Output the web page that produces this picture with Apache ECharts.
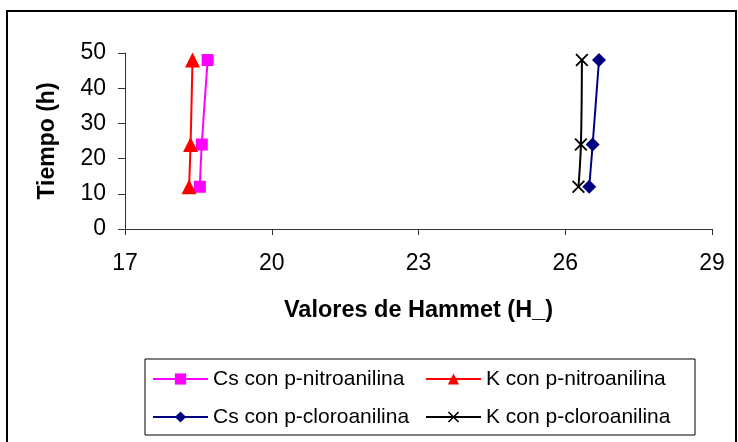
<!DOCTYPE html>
<html>
<head>
<meta charset="utf-8">
<script src="https://cdn.jsdelivr.net/npm/echarts@6/dist/echarts.min.js"></script>
<style>
  html, body { margin: 0; padding: 0; background: #fff; }
  #chart { width: 738px; height: 442px; }
</style>
</head>
<body>
<div id="chart"></div>
<script>
// Time points (h)
const tiempo = [12, 24, 48];
// Hammett acidity values for each catalyst / indicator pair
const csNitro = [18.53, 18.57, 18.69];
const kNitro = [18.31, 18.34, 18.38];
const csCloro = [26.49, 26.56, 26.69];
const kCloro = [26.27, 26.32, 26.34];
const seriesNames = [
  'Cs con p-nitroanilina',
  'K con p-nitroanilina',
  'Cs con p-cloroanilina',
  'K con p-cloroanilina'
];
const xTicks = { min: 17, max: 29, step: 3 };
const yTicks = { min: 0, max: 50, step: 10 };

const FONT = '"Liberation Sans", Arial, sans-serif';
const crossPath = 'path://M0,1L1,0L5,4L9,0L10,1L6,5L10,9L9,10L5,6L1,10L0,9L4,5Z';

function pairs(xs) { return xs.map((x, i) => [x, tiempo[i]]); }

function lineSeries(name, xs, color, symbol, size) {
  return {
    name: name,
    type: 'line',
    data: pairs(xs),
    smooth: 0.4,
    symbol: symbol,
    symbolSize: size,
    showAllSymbol: true,
    lineStyle: { color: color, width: 2 },
    itemStyle: { color: color },
    emphasis: { disabled: true },
    z: 3
  };
}

const chart = echarts.init(document.getElementById('chart'), null, { renderer: 'canvas' });
chart.setOption({
  animation: false,
  backgroundColor: '#fff',
  textStyle: { fontFamily: FONT },
  graphic: [{
    type: 'rect',
    shape: { x: 7, y: 11, width: 729, height: 440 },
    style: { fill: 'none', stroke: '#000', lineWidth: 2 },
    silent: true
  }],
  grid: { left: 125, right: 26, top: 53, bottom: 213, containLabel: false },
  xAxis: {
    type: 'value',
    min: xTicks.min, max: xTicks.max, interval: xTicks.step,
    name: 'Valores de Hammet (H_)',
    nameLocation: 'middle',
    nameGap: 70,
    nameTextStyle: { fontFamily: FONT, fontSize: 23.5, fontWeight: 'bold', color: '#000' },
    axisLine: { show: true, onZero: false, lineStyle: { color: '#333', width: 1 } },
    axisTick: { show: true, inside: false, length: 6, lineStyle: { color: '#333' } },
    axisLabel: { fontFamily: FONT, fontSize: 23, color: '#000', margin: 23 },
    splitLine: { show: false }
  },
  yAxis: {
    type: 'value',
    min: yTicks.min, max: yTicks.max, interval: yTicks.step,
    name: 'Tiempo (h)',
    nameLocation: 'middle',
    nameGap: 66,
    nameRotate: 90,
    nameTextStyle: { fontFamily: FONT, fontSize: 23, fontWeight: 'bold', color: '#000' },
    axisLine: { show: true, onZero: false, lineStyle: { color: '#333', width: 1 } },
    axisTick: { show: true, inside: false, length: 7, lineStyle: { color: '#333' } },
    axisLabel: { fontFamily: FONT, fontSize: 23, color: '#000', margin: 19 },
    splitLine: { show: false }
  },
  legend: {
    data: seriesNames,
    left: 145,
    top: 359,
    width: 600,
    orient: 'horizontal',
    padding: [8, 11, 6, 7],
    itemGap: 14,
    itemWidth: 55,
    itemHeight: 14,
    borderColor: '#000',
    borderWidth: 1,
    backgroundColor: '#fff',
    textStyle: { fontFamily: FONT, fontSize: 21, color: '#000', width: 198, lineHeight: 24 },
    selectedMode: false
  },
  series: [
    lineSeries(seriesNames[0], csNitro, '#FF00FF', 'rect', 12),
    lineSeries(seriesNames[1], kNitro, '#FF0000', 'triangle', 15),
    lineSeries(seriesNames[2], csCloro, '#000080', 'diamond', 14),
    lineSeries(seriesNames[3], kCloro, '#000000', crossPath, 13)
  ]
});
</script>
</body>
</html>
